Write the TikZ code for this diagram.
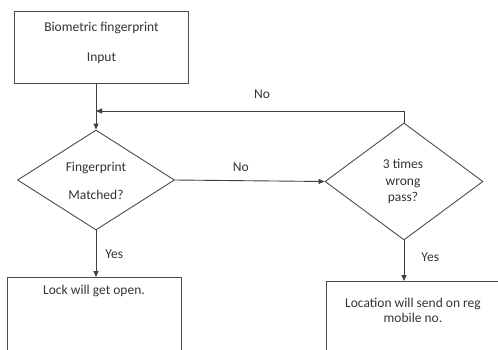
\documentclass[tikz,border=0pt]{standalone}
\usepackage{fontspec}
\setmainfont{Carlito}
\usetikzlibrary{shapes.geometric,arrows.meta}
\begin{document}
\begin{tikzpicture}[x=1pt,y=-1pt,
  every node/.style={font=\fontsize{13.5}{16}\selectfont, text=black!80},
  box/.style={draw=black!70, line width=0.9pt, inner sep=0, anchor=north west},
  dec/.style={draw=black!70, line width=0.9pt, diamond, inner sep=0},
  conn/.style={draw=black!75, line width=0.9pt, -{Triangle[length=6pt,width=5pt]}},
  txt/.style={align=center, inner sep=0}]
\useasboundingbox (0,0) rectangle (498,349);
\clip (0,0) rectangle (498,349);
% boxes
\node[box, minimum width=174pt, minimum height=72pt] (input) at (14,11) {};
\node[txt] at (input.center) [yshift=5pt] {Biometric fingerprint\\[14pt]Input};
\node[box, minimum width=174pt, minimum height=100pt] (lock) at (7,277) {};
\node[txt] (locktxt) at (94,291) {Lock will get open.};
\node[box, minimum width=190pt, minimum height=100pt] (loc) at (326,281) {};
\node[txt] (loctxt) at (413,310.5) {Location will send on reg\\[-1pt]mobile no.};
% decisions
\node[dec, minimum width=157pt, minimum height=100pt] (match) at (96,180) {};
\node[txt] at (96,181) {Fingerprint\\[12pt]Matched?};
\node[dec, minimum width=158pt, minimum height=117pt] (wrong) at (404,181.5) {};
\node[txt] at (403,181) {3 times\\[1pt]wrong\\[0pt]pass?};
% connectors
\draw[conn] (input.south -| match.north) -- (match.north);
\coordinate (fb) at (match.north |- 0,111);
\draw[conn] (wrong.north) -- (wrong.north |- fb) -- (fb);
\node[txt] at (262,94) {No};
\draw[conn] (match.east) -- node[txt, above=9pt, pos=0.44] {No} (wrong.west);
\draw[conn] (match.south) -- node[txt, right=9pt, pos=0.5] {Yes} (match.south |- lock.north);
\draw[conn] (wrong.south) -- node[txt, right=17pt, pos=0.42] {Yes} (wrong.south |- loc.north);
\end{tikzpicture}
\end{document}
